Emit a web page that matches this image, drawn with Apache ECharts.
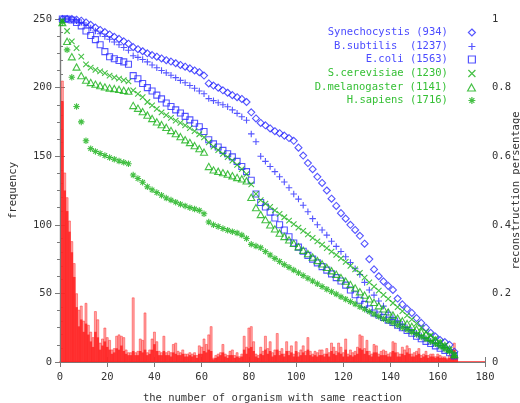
<!DOCTYPE html>
<html><head><meta charset="utf-8">
<script src="https://cdn.jsdelivr.net/npm/echarts@6/dist/echarts.min.js"></script>
<style>html,body{margin:0;padding:0;background:#fff}#c{width:520px;height:403px}</style>
</head><body><div id="c"></div>
<script>
// x axis ticks and y axis ticks
const xTicks = [0,20,40,60,80,100,120,140,160,180];
const freqTicks = [0,50,100,150,200,250];
const shareTicks = [0,0.2,0.4,0.6,0.8,1];

// histogram: number of reactions shared by exactly n organisms (n = 1..168)
const freqAll = [
205,138,120,103,88,72,50,38,41,30,
43,27,22,18,37,31,14,17,25,18,
16,9,10,19,20,19,18,9,7,7,
47,7,8,17,16,36,7,9,17,22,
15,8,7,19,7,8,7,13,14,8,
7,9,6,6,7,6,7,5,12,11,
17,13,20,26,3,5,6,7,13,6,
5,8,9,5,7,4,6,19,11,25,
26,15,6,5,11,8,19,10,15,7,
9,21,8,10,6,15,8,12,6,15,
7,9,12,8,18,8,6,8,7,9,
9,6,10,7,14,11,8,14,11,7,
17,6,9,7,8,11,20,19,10,16,
8,6,13,12,6,8,9,8,6,7,
15,14,7,6,11,9,12,10,6,7,
8,10,5,6,8,5,6,6,4,6,
5,4,4,3,5,8,14,4];
const freqCore = [
190,125,110,95,80,62,40,26,31,22,
28,20,15,11,22,18,9,12,15,11,
9,6,7,10,9,12,8,6,5,5,
8,5,5,8,7,9,5,6,9,13,
8,5,5,8,5,5,4,7,6,5,
5,6,4,4,5,4,5,3,6,6,
8,7,9,8,2,3,4,5,7,4,
3,5,5,3,4,3,4,9,6,10,
11,8,4,3,6,5,9,6,8,4,
5,9,5,6,4,8,5,7,4,8,
4,5,7,5,9,5,4,5,4,5,
5,4,6,4,8,6,5,7,6,4,
9,4,5,4,5,6,10,9,6,8,
5,4,7,7,4,5,5,5,4,4,
8,7,4,4,6,5,7,6,4,4,
5,6,3,4,5,3,4,4,3,4,
3,3,3,2,3,5,9,3];

// reconstruction percentage, sampled at n = 1,3,5,...,167
const synechocystis = [
1.0,1.0,1.0,0.998,0.995,0.99,0.983,0.975,0.968,0.962,
0.955,0.948,0.942,0.935,0.928,0.918,0.912,0.906,0.9,0.895,
0.89,0.885,0.88,0.876,0.871,0.866,0.861,0.856,0.85,0.845,
0.835,0.812,0.806,0.8,0.792,0.785,0.778,0.772,0.767,0.758,
0.728,0.71,0.697,0.69,0.681,0.673,0.667,0.66,0.653,0.645,
0.625,0.602,0.58,0.562,0.54,0.522,0.5,0.476,0.455,0.434,
0.418,0.4,0.385,0.368,0.345,0.3,0.27,0.25,0.235,0.222,
0.21,0.185,0.168,0.155,0.143,0.128,0.114,0.1,0.085,0.074,
0.064,0.058,0.05,0.03];
const bsubtilis = [
1.0,1.0,0.998,0.995,0.99,0.982,0.974,0.965,0.957,0.949,
0.941,0.933,0.925,0.917,0.909,0.893,0.888,0.882,0.875,0.866,
0.858,0.85,0.843,0.836,0.829,0.821,0.814,0.806,0.798,0.79,
0.782,0.768,0.762,0.756,0.75,0.744,0.735,0.725,0.715,0.705,
0.665,0.642,0.6,0.585,0.57,0.555,0.54,0.525,0.508,0.49,
0.475,0.457,0.438,0.418,0.4,0.385,0.37,0.352,0.337,0.322,
0.307,0.29,0.272,0.255,0.232,0.21,0.195,0.178,0.163,0.145,
0.13,0.12,0.11,0.1,0.092,0.084,0.076,0.068,0.06,0.054,
0.048,0.042,0.032,0.018];
const ecoli = [
1.0,1.0,0.997,0.99,0.98,0.965,0.952,0.94,0.925,0.905,
0.89,0.884,0.879,0.875,0.868,0.835,0.826,0.812,0.8,0.79,
0.778,0.767,0.755,0.745,0.735,0.726,0.716,0.706,0.696,0.686,
0.672,0.648,0.636,0.627,0.617,0.607,0.598,0.585,0.57,0.555,
0.53,0.49,0.465,0.452,0.437,0.42,0.4,0.385,0.365,0.347,
0.335,0.323,0.311,0.3,0.289,0.278,0.268,0.257,0.246,0.236,
0.224,0.21,0.196,0.18,0.168,0.155,0.143,0.137,0.13,0.122,
0.115,0.107,0.1,0.092,0.084,0.075,0.068,0.06,0.054,0.047,
0.04,0.034,0.027,0.018];
const scerevisiae = [
0.995,0.965,0.935,0.915,0.89,0.868,0.858,0.852,0.847,0.842,
0.835,0.83,0.826,0.822,0.818,0.792,0.782,0.772,0.758,0.748,
0.738,0.728,0.72,0.712,0.704,0.697,0.69,0.682,0.673,0.664,
0.655,0.64,0.628,0.618,0.607,0.597,0.587,0.575,0.562,0.548,
0.518,0.49,0.472,0.462,0.452,0.442,0.432,0.422,0.412,0.402,
0.392,0.382,0.372,0.362,0.352,0.342,0.332,0.322,0.312,0.302,
0.292,0.28,0.27,0.26,0.246,0.232,0.22,0.208,0.196,0.184,
0.172,0.16,0.148,0.136,0.124,0.112,0.1,0.088,0.078,0.068,
0.058,0.048,0.036,0.02];
const dmelanogaster = [
0.99,0.935,0.89,0.86,0.835,0.822,0.815,0.81,0.806,0.802,
0.799,0.797,0.795,0.792,0.79,0.748,0.74,0.73,0.72,0.71,
0.7,0.692,0.684,0.675,0.666,0.657,0.648,0.64,0.631,0.622,
0.612,0.57,0.56,0.556,0.552,0.548,0.543,0.538,0.534,0.528,
0.48,0.45,0.43,0.415,0.4,0.388,0.376,0.366,0.356,0.346,
0.336,0.326,0.316,0.306,0.296,0.286,0.276,0.266,0.256,0.246,
0.236,0.226,0.216,0.205,0.195,0.184,0.174,0.164,0.155,0.146,
0.137,0.128,0.12,0.112,0.104,0.096,0.088,0.08,0.072,0.064,
0.056,0.048,0.038,0.022];
const hsapiens = [
0.99,0.91,0.83,0.745,0.7,0.645,0.622,0.614,0.608,0.602,
0.596,0.591,0.586,0.582,0.578,0.545,0.535,0.524,0.511,0.502,
0.494,0.486,0.478,0.472,0.466,0.46,0.455,0.45,0.446,0.442,
0.432,0.408,0.4,0.395,0.389,0.384,0.38,0.376,0.37,0.36,
0.343,0.338,0.333,0.322,0.312,0.302,0.293,0.284,0.276,0.268,
0.26,0.252,0.244,0.236,0.228,0.22,0.212,0.205,0.198,0.19,
0.183,0.176,0.169,0.161,0.154,0.147,0.14,0.133,0.126,0.12,
0.114,0.107,0.1,0.094,0.087,0.08,0.073,0.067,0.06,0.053,
0.046,0.038,0.03,0.018];

const seriesNames = ['Synechocystis (934)','B.subtilis  (1237)','E.coli (1563)','S.cerevisiae (1230)','D.melanogaster (1141)','H.sapiens (1716)'];
const seriesValues = [synechocystis,bsubtilis,ecoli,scerevisiae,dmelanogaster,hsapiens];

const histX = freqAll.map((_, i) => i + 1);
const curveX = synechocystis.map((_, i) => 2 * i + 1);

const BLUE = '#2b2bff', GREEN = '#16b016';
const BLUE_T = '#4b4bff', GREEN_T = '#36c036';
const markerColors = [BLUE,BLUE,BLUE,GREEN,GREEN,GREEN];
const textColors = [BLUE_T,BLUE_T,BLUE_T,GREEN_T,GREEN_T,GREEN_T];
const symbols = [
  'path://M5,0L10,5L5,10L0,5Z',
  'path://M5,0V10M0,5H10',
  'path://M0,0H10V10H0Z',
  'path://M0,0L10,10M10,0L0,10',
  'path://M5,0L10,9H0Z',
  'path://M5,0V10M0,5H10M1.5,1.5L8.5,8.5M8.5,1.5L1.5,8.5'];
const sizes = [7,6.5,6,5.5,7,6.5];

const MONO = 'DejaVu Sans Mono';
const AX = '#7a7a7a';
const chart = echarts.init(document.getElementById('c'), null, {renderer:'canvas'});

const series = [
  {type:'bar', name:'all', xAxisIndex:0, yAxisIndex:0, barWidth:2.6, barGap:'-100%',
   data: histX.map((x,i)=>[x,freqAll[i]]), silent:true, z:1,
   itemStyle:{color:'rgba(255,80,80,0.5)', borderColor:'rgba(255,40,40,0.8)', borderWidth:0.6}},
  {type:'bar', name:'core', xAxisIndex:0, yAxisIndex:0, barWidth:2.6, barGap:'-100%',
   data: histX.map((x,i)=>[x,freqCore[i]]), silent:true, z:2,
   itemStyle:{color:'rgba(255,35,35,0.88)'}}
];
seriesNames.forEach((n,k)=>{
  series.push({type:'scatter', name:n, xAxisIndex:0, yAxisIndex:1,
    data: curveX.map((x,i)=>[x, seriesValues[k][i]]),
    symbol: symbols[k], symbolSize: sizes[k], symbolKeepAspect:true, z:5+k,
    itemStyle:{color:'transparent', borderColor: markerColors[k], borderWidth:1.1}});
});

const rowTops = [27,41,54,68,82,95];
const legends = seriesNames.map((n,k)=>({
  data:[n], orient:'vertical', right:44, top:rowTops[k], align:'right',
  itemWidth:38, itemHeight:7, itemGap:0, padding:0, selectedMode:false,
  symbolKeepAspect:true,
  itemStyle:{borderWidth:1.2},
  textStyle:{fontFamily:MONO, fontSize:10.5, color:textColors[k]}
}));

chart.setOption({
  animation:false,
  backgroundColor:'#fff',
  grid:{left:60, right:35, top:19, bottom:41, containLabel:false, outerBoundsMode:'none'},
  legend: legends,
  xAxis:[
    {type:'value', min:xTicks[0], max:xTicks[xTicks.length-1], interval:20, position:'bottom',
     name:'the number of organism with same reaction', nameLocation:'middle', nameGap:31, nameMoveOverlap:false,
     nameTextStyle:{fontFamily:MONO, fontSize:10.5, color:'#333'},
     axisLine:{lineStyle:{color:'#ff2a2a', width:1.5}},
     axisTick:{inside:true, length:5, lineStyle:{color:AX}},
     axisLabel:{fontFamily:MONO, fontSize:10.5, color:'#333', margin:10},
     splitLine:{show:false}},
    {type:'value', min:xTicks[0], max:xTicks[xTicks.length-1], interval:20, position:'top',
     axisLine:{lineStyle:{color:AX, width:1.2}},
     axisTick:{inside:true, length:5, lineStyle:{color:AX}},
     axisLabel:{show:false}, splitLine:{show:false}}
  ],
  yAxis:[
    {type:'value', min:freqTicks[0], max:freqTicks[freqTicks.length-1], interval:50, position:'left',
     name:'frequency', nameLocation:'middle', nameGap:41, nameRotate:90, nameMoveOverlap:false,
     nameTextStyle:{fontFamily:MONO, fontSize:10.5, color:'#333'},
     axisLine:{show:true, lineStyle:{color:AX, width:1.2}},
     axisTick:{show:true, inside:true, length:5, lineStyle:{color:AX}},
     minorTick:{show:true, splitNumber:5, length:3, lineStyle:{color:AX}},
     axisLabel:{fontFamily:MONO, fontSize:10.5, color:'#333', margin:8},
     splitLine:{show:false}},
    {type:'value', min:shareTicks[0], max:shareTicks[shareTicks.length-1], interval:0.2, position:'right',
     name:'reconstruction persentage', nameLocation:'middle', nameGap:26, nameRotate:90, nameMoveOverlap:false,
     nameTextStyle:{fontFamily:MONO, fontSize:10.5, color:'#333'},
     axisLine:{show:true, lineStyle:{color:AX, width:1.2}},
     axisTick:{show:true, inside:true, length:5, lineStyle:{color:AX}},
     minorTick:{show:true, splitNumber:4, length:3, lineStyle:{color:AX}},
     axisLabel:{fontFamily:MONO, fontSize:10.5, color:'#333', margin:7},
     splitLine:{show:false}}
  ],
  series: series
});
</script></body></html>
